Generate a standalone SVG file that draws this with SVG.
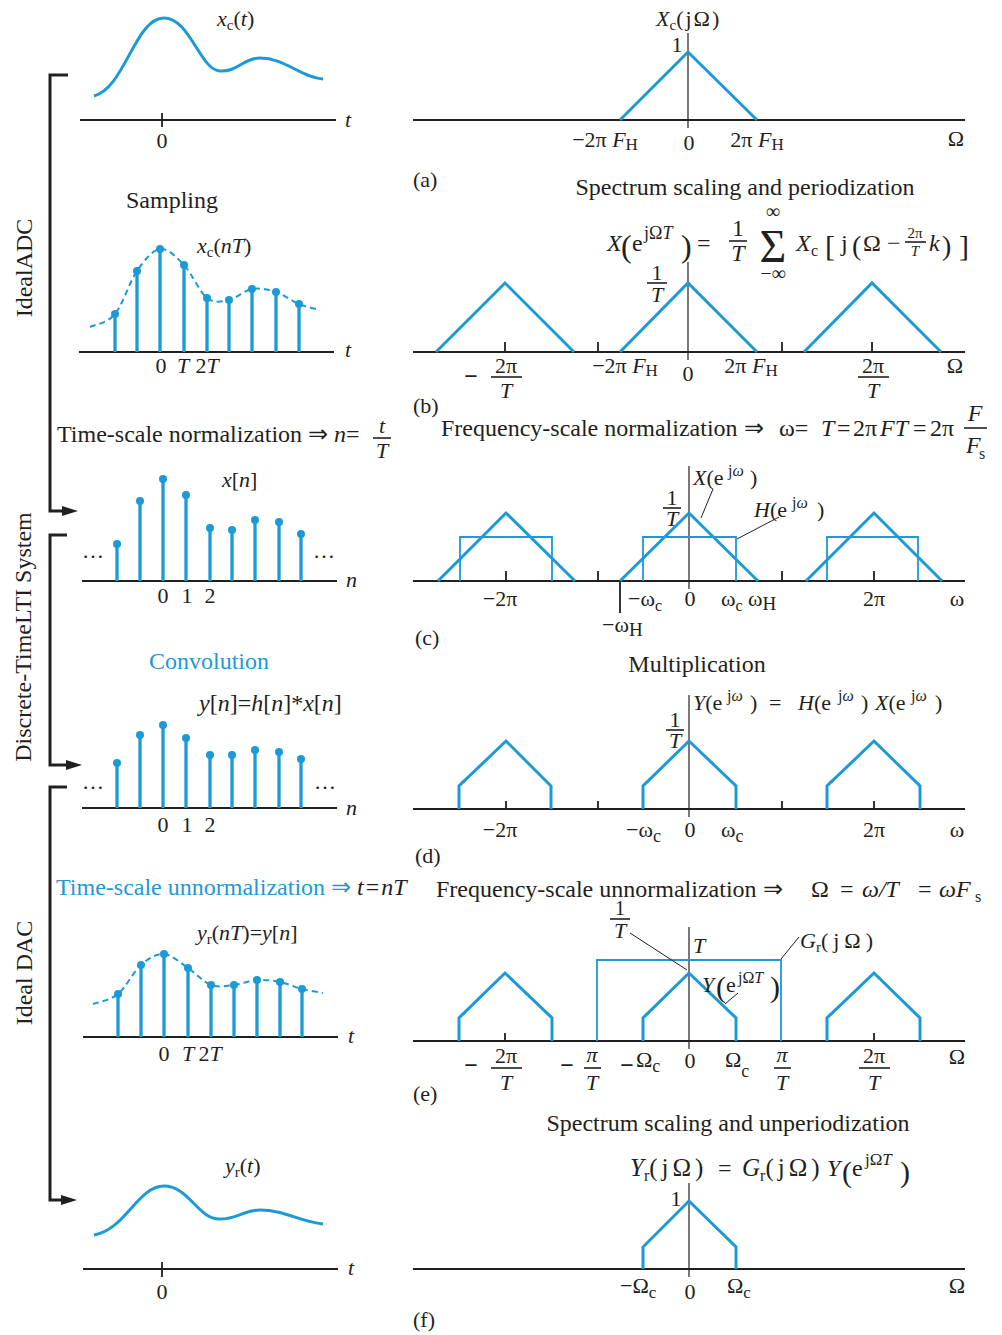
<svg xmlns="http://www.w3.org/2000/svg" width="1002" height="1335" viewBox="0 0 1002 1335">
<defs>
<style>
text{font-family:'Liberation Serif','Times New Roman',serif;font-size:22px;fill:#231f20}
.i{font-style:italic}
.m{text-anchor:middle}
.big{font-size:24px}
.blue{fill:#1c9ad6}
.ax{stroke:#231f20;stroke-width:1.8;fill:none}
.va{stroke:#231f20;stroke-width:1.2;fill:none}
.sp{stroke:#1c9ad6;stroke-width:3;fill:none}
.rc{stroke:#1c9ad6;stroke-width:1.8;fill:none}
.stem{stroke:#1c9ad6;stroke-width:3.3;fill:none}
.dot{fill:#1c9ad6}
.dash{stroke:#1c9ad6;stroke-width:2;fill:none;stroke-dasharray:6 4}
.ld{stroke:#231f20;stroke-width:1;fill:none}
.fb{stroke:#231f20;stroke-width:1.6}
.br{stroke:#231f20;stroke-width:3;fill:none}
.sub{font-size:15px}
.bm{font-weight:bold;font-size:24px}
</style>
<marker id="ah" markerUnits="userSpaceOnUse" markerWidth="16" markerHeight="10" refX="6" refY="5" orient="auto"><path d="M0,0 L16,5 L0,10 z" fill="#231f20"/></marker>
</defs>
<rect width="1002" height="1335" fill="#ffffff"/>

<g id="connectors">
<path class="br" d="M68,75 H50 V511 H68" marker-end="url(#ah)"/>
<path class="br" d="M67,535 H50 V765 H72" marker-end="url(#ah)"/>
<path class="br" d="M67,787 H50 V1200 H67" marker-end="url(#ah)"/>
</g>

<g id="side-labels">
<text transform="translate(32,268) rotate(-90)" class="m big">IdealADC</text>
<text transform="translate(31,637) rotate(-90)" class="m big">Discrete-TimeLTI System</text>
<text transform="translate(32,973) rotate(-90)" class="m big">Ideal DAC</text>
</g>

<g id="xc-t">
<line class="ax" x1="80" y1="120" x2="336" y2="120"/>
<line class="ax" x1="162" y1="113" x2="162" y2="127"/>
<path class="sp" d="M94,96 C125,88 135,18 164,18 C190,18 200,70 220,71 C238,72 243,58 260,58 C285,58 300,77 323,79"/>
<text x="217" y="26"><tspan class="i">x</tspan><tspan class="sub" dy="4">c</tspan><tspan dy="-4">(</tspan><tspan class="i">t</tspan>)</text>
<text x="345" y="127" class="i">t</text>
<text x="162" y="148" class="m">0</text>
</g>

<g id="sampling">
<text x="172" y="208" class="m big">Sampling</text>
<line class="ax" x1="79" y1="352" x2="334" y2="352"/>
<path class="dash" d="M90,327 C94.2,324.8 107.2,323.3 115,314 C122.8,304.7 129.5,281.8 137,271 C144.5,260.2 152.2,250 160,249 C167.8,248 176.2,256.8 184,265 C191.8,273.2 199.5,292.2 207,298 C214.5,303.8 221.5,301.5 229,300 C236.5,298.5 244.2,290.3 252,289 C259.8,287.7 268.2,289.5 276,292 C283.8,294.5 291.7,301 299,304 C306.3,307 316.5,309 320,310"/>
<path class="stem" d="M115,352V314M137,352V271M160,352V249M184,352V265M207,352V298M229,352V300M252,352V289M276,352V292M299,352V304"/>
<g class="dot"><circle cx="115" cy="314" r="4"/><circle cx="137" cy="271" r="4"/><circle cx="160" cy="249" r="4"/><circle cx="184" cy="265" r="4"/><circle cx="207" cy="298" r="4"/><circle cx="229" cy="300" r="4"/><circle cx="252" cy="289" r="4"/><circle cx="276" cy="292" r="4"/><circle cx="299" cy="304" r="4"/></g>
<text x="197" y="253"><tspan class="i">x</tspan><tspan class="sub" dy="4">c</tspan><tspan dy="-4">(</tspan><tspan class="i">nT</tspan>)</text>
<text x="345" y="357" class="i">t</text>
<text x="161" y="373" class="m">0</text>
<text x="183" y="373" class="m i">T</text>
<text x="207" y="373" class="m">2<tspan class="i">T</tspan></text>
</g>

<g id="time-normalization">
<text x="57" y="442" class="big">Time-scale normalization ⇒ <tspan class="i">n</tspan>=</text>
<text x="382" y="433" class="m i">t</text>
<line class="fb" x1="373" y1="438" x2="391" y2="438"/>
<text x="382" y="458" class="m i">T</text>
</g>

<g id="x-n">
<line class="ax" x1="82" y1="581" x2="337" y2="581"/>
<path class="stem" d="M117,581V544M140,581V501M163,581V479M186,581V495M210,581V528M232,581V530M255,581V520M279,581V522M301,581V534"/>
<g class="dot"><circle cx="117" cy="544" r="4"/><circle cx="140" cy="501" r="4"/><circle cx="163" cy="479" r="4"/><circle cx="186" cy="495" r="4"/><circle cx="210" cy="528" r="4"/><circle cx="232" cy="530" r="4"/><circle cx="255" cy="520" r="4"/><circle cx="279" cy="522" r="4"/><circle cx="301" cy="534" r="4"/></g>
<text x="222" y="487"><tspan class="i">x</tspan>[<tspan class="i">n</tspan>]</text>
<text x="82" y="558">…</text>
<text x="313" y="558">…</text>
<text x="163" y="603" class="m">0</text>
<text x="187" y="603" class="m">1</text>
<text x="210" y="603" class="m">2</text>
<text x="346" y="587" class="i">n</text>
</g>

<g id="convolution">
<text x="209" y="669" class="m big blue">Convolution</text>
<text x="199" y="711" class="big"><tspan class="i">y</tspan>[<tspan class="i">n</tspan>]=<tspan class="i">h</tspan>[<tspan class="i">n</tspan>]*<tspan class="i">x</tspan>[<tspan class="i">n</tspan>]</text>
</g>

<g id="y-n">
<line class="ax" x1="82" y1="808" x2="337" y2="808"/>
<path class="stem" d="M117,808V763M140,808V735M163,808V725M186,808V738M210,808V755M232,808V755M255,808V750M279,808V752M301,808V759"/>
<g class="dot"><circle cx="117" cy="763" r="4"/><circle cx="140" cy="735" r="4"/><circle cx="163" cy="725" r="4"/><circle cx="186" cy="738" r="4"/><circle cx="210" cy="755" r="4"/><circle cx="232" cy="755" r="4"/><circle cx="255" cy="750" r="4"/><circle cx="279" cy="752" r="4"/><circle cx="301" cy="759" r="4"/></g>
<text x="82" y="789">…</text>
<text x="314" y="789">…</text>
<text x="163" y="832" class="m">0</text>
<text x="187" y="832" class="m">1</text>
<text x="210" y="832" class="m">2</text>
<text x="346" y="815" class="i">n</text>
</g>

<g id="time-unnormalization">
<text x="56" y="895" class="big"><tspan class="blue">Time-scale unnormalization ⇒</tspan> <tspan class="i">t</tspan><tspan dx="2">=</tspan><tspan class="i" dx="2">nT</tspan></text>
</g>

<g id="yr-nT">
<line class="ax" x1="83" y1="1037" x2="338" y2="1037"/>
<path class="dash" d="M93,1004 C97.2,1002.3 110,1000.5 118,994 C126,987.5 133.3,971.7 141,965 C148.7,958.3 156.2,953.5 164,954 C171.8,954.5 180.2,962.8 188,968 C195.8,973.2 203.3,982.2 211,985 C218.7,987.8 226.3,985.8 234,985 C241.7,984.2 249.3,980.5 257,980 C264.7,979.5 272.5,980.5 280,982 C287.5,983.5 294.8,987.2 302,989 C309.2,990.8 319.5,992.3 323,993"/>
<path class="stem" d="M118,1037V994M141,1037V965M164,1037V954M188,1037V968M211,1037V985M234,1037V985M257,1037V980M280,1037V982M302,1037V989"/>
<g class="dot"><circle cx="118" cy="994" r="4"/><circle cx="141" cy="965" r="4"/><circle cx="164" cy="954" r="4"/><circle cx="188" cy="968" r="4"/><circle cx="211" cy="985" r="4"/><circle cx="234" cy="985" r="4"/><circle cx="257" cy="980" r="4"/><circle cx="280" cy="982" r="4"/><circle cx="302" cy="989" r="4"/></g>
<text x="197" y="940"><tspan class="i">y</tspan><tspan class="sub" dy="4">r</tspan><tspan dy="-4">(</tspan><tspan class="i">nT</tspan>)=<tspan class="i">y</tspan>[<tspan class="i">n</tspan>]</text>
<text x="348" y="1043" class="i">t</text>
<text x="164" y="1061" class="m">0</text>
<text x="188" y="1061" class="m i">T</text>
<text x="210" y="1061" class="m">2<tspan class="i">T</tspan></text>
</g>

<g id="yr-t">
<line class="ax" x1="83" y1="1269" x2="338" y2="1269"/>
<line class="ax" x1="162" y1="1262" x2="162" y2="1277"/>
<path class="sp" d="M94,1235 C125,1230 138,1186 164,1186 C188,1186 198,1218 218,1219 C236,1220 243,1210 260,1210 C285,1210 300,1222 323,1224"/>
<text x="225" y="1173"><tspan class="i">y</tspan><tspan class="sub" dy="4">r</tspan><tspan dy="-4">(</tspan><tspan class="i">t</tspan>)</text>
<text x="348" y="1275" class="i">t</text>
<text x="162" y="1299" class="m">0</text>
</g>

<g id="spectrum-a">
<line class="ax" x1="413" y1="120" x2="965" y2="120"/>
<line class="va" x1="688" y1="33" x2="688" y2="128"/>
<path class="sp" d="M620,120 L688,52 L757,120"/>
<text x="656" y="26"><tspan class="i">X</tspan><tspan class="sub" dy="4">c</tspan><tspan dy="-4" style="letter-spacing:2px">(jΩ)</tspan></text>
<text x="677" y="52" class="m">1</text>
<text x="605" y="147" class="m">−2π <tspan class="i">F</tspan><tspan style="font-size:17px" dy="3">H</tspan></text>
<text x="689" y="150" class="m">0</text>
<text x="757" y="147" class="m">2π <tspan class="i">F</tspan><tspan style="font-size:17px" dy="3">H</tspan></text>
<text x="956" y="146" class="m">Ω</text>
<text x="413" y="187">(a)</text>
</g>

<g id="periodization">
<text x="745" y="195" class="m big">Spectrum scaling and periodization</text>
<text x="607" y="251" class="i big">X</text>
<text x="621" y="257" style="font-size:32px">(</text>
<text x="632" y="251" class="big">e</text>
<text x="644" y="239" style="font-size:18px">jΩ<tspan class="i">T</tspan></text>
<text x="681" y="257" style="font-size:32px">)</text>
<text x="697" y="251" class="big">=</text>
<text x="738" y="236" class="m big">1</text>
<line class="fb" x1="729" y1="241" x2="747" y2="241"/>
<text x="738" y="261" class="m i big">T</text>
<text x="773" y="262" class="m" style="font-size:46px">Σ</text>
<text x="773" y="218" class="m" style="font-size:20px">∞</text>
<text x="773" y="280" class="m" style="font-size:20px">−∞</text>
<text x="796" y="251" class="i big">X</text>
<text x="811" y="256" style="font-size:16px">c</text>
<text x="825" y="256" style="font-size:30px">[</text>
<text x="841" y="251" class="big">j</text>
<text x="852" y="255" style="font-size:28px">(</text>
<text x="863" y="251" class="big">Ω</text>
<text x="887" y="251" class="big">−</text>
<text x="915" y="238" class="m" style="font-size:15px">2π</text>
<line class="fb" x1="905" y1="242" x2="926" y2="242" stroke-width="1.2"/>
<text x="915" y="256" class="m i" style="font-size:15px">T</text>
<text x="929" y="251" class="i big">k</text>
<text x="942" y="255" style="font-size:28px">)</text>
<text x="959" y="256" style="font-size:30px">]</text>
</g>

<g id="spectrum-b">
<line class="ax" x1="413" y1="352" x2="965" y2="352"/>
<line class="va" x1="688" y1="262" x2="688" y2="360"/>
<path class="sp" d="M436,352 L505,283 L574,352 M620,352 L688,283 L757,352 M804,352 L872,283 L941,352"/>
<path class="ax" d="M505,342V352M598,342V352M782,342V352M872,342V352"/>
<text x="657" y="280" class="m">1</text>
<line class="fb" x1="647" y1="283" x2="667" y2="283"/>
<text x="657" y="302" class="m i">T</text>
<text x="471" y="384" class="m bm">−</text>
<text x="506" y="373" class="m">2π</text>
<line class="fb" x1="491" y1="377" x2="522" y2="377"/>
<text x="506" y="398" class="m i">T</text>
<text x="625" y="373" class="m">−2π <tspan class="i">F</tspan><tspan style="font-size:17px" dy="3">H</tspan></text>
<text x="688" y="381" class="m">0</text>
<text x="751" y="373" class="m">2π <tspan class="i">F</tspan><tspan style="font-size:17px" dy="3">H</tspan></text>
<text x="873" y="373" class="m">2π</text>
<line class="fb" x1="858" y1="377" x2="889" y2="377"/>
<text x="873" y="398" class="m i">T</text>
<text x="955" y="373" class="m">Ω</text>
<text x="413" y="413">(b)</text>
</g>

<g id="freq-normalization">
<text x="441" y="436" class="big">Frequency-scale normalization ⇒</text>
<text x="779" y="436" class="big">ω=</text>
<text x="821" y="436" class="big i">T</text>
<text x="837" y="436" class="big">=</text>
<text x="853" y="436" class="big">2π</text>
<text x="880" y="436" class="big i">FT</text>
<text x="913" y="436" class="big">=</text>
<text x="930" y="436" class="big">2π</text>
<text x="975" y="421" class="m i big">F</text>
<line class="fb" x1="964" y1="428" x2="987" y2="428"/>
<text x="966" y="453" class="i big">F</text>
<text x="979" y="459" style="font-size:16px">s</text>
</g>

<g id="spectrum-c">
<line class="ax" x1="413" y1="581" x2="965" y2="581"/>
<line class="va" x1="689" y1="466" x2="689" y2="589"/>
<path class="sp" d="M438,581 L506,513 L575,581 M620,581 L689,513 L758,581 M806,581 L874,513 L942,581"/>
<path class="rc" d="M460,581 V537 H552 V581 M643,581 V537 H736 V581 M827,581 V537 H918 V581"/>
<path class="ax" d="M506,571V581M598,571V581M782,571V581M874,571V581"/>
<line class="ax" x1="620" y1="581" x2="620" y2="613" stroke-width="1.5"/>
<text x="672" y="505" class="m">1</text>
<line class="fb" x1="663" y1="508" x2="681" y2="508"/>
<text x="672" y="526" class="m i">T</text>
<text x="693" y="485"><tspan class="i">X</tspan>(e</text>
<text x="728" y="476" style="font-size:16px">j<tspan class="i">ω</tspan></text>
<text x="750" y="485">)</text>
<text x="754" y="517"><tspan class="i">H</tspan>(e</text>
<text x="792" y="508" style="font-size:16px">j<tspan class="i">ω</tspan></text>
<text x="817" y="517">)</text>
<path class="ld" d="M713,489 L701,518 M779,517 L737,539"/>
<text x="500" y="606" class="m">−2π</text>
<text x="628" y="606">−ω<tspan style="font-size:16px" dy="5">c</tspan></text>
<text x="690" y="606" class="m">0</text>
<text x="721" y="606">ω<tspan style="font-size:16px" dy="5">c</tspan></text>
<text x="748" y="606">ω<tspan style="font-size:19px" dy="4">H</tspan></text>
<text x="874" y="606" class="m">2π</text>
<text x="957" y="606" class="m">ω</text>
<text x="602" y="632">−ω<tspan style="font-size:19px" dy="4">H</tspan></text>
<text x="415" y="645">(c)</text>
</g>

<g id="multiplication">
<text x="697" y="672" class="m big">Multiplication</text>
</g>

<g id="spectrum-d">
<line class="ax" x1="413" y1="809" x2="965" y2="809"/>
<line class="va" x1="689" y1="695" x2="689" y2="817"/>
<path class="sp" d="M459,809 V786 L506,741 L551,786 V809 M643,809 V786 L689,741 L736,786 V809 M827,809 V786 L874,741 L920,786 V809"/>
<path class="ax" d="M506,801V809M598,801V809M782,801V809M874,801V809"/>
<text x="675" y="727" class="m">1</text>
<line class="fb" x1="666" y1="730" x2="684" y2="730"/>
<text x="675" y="748" class="m i">T</text>
<text x="693" y="710"><tspan class="i">Y</tspan>(e</text>
<text x="727" y="701" style="font-size:16px">j<tspan class="i">ω</tspan></text>
<text x="750" y="710">)</text>
<text x="769" y="710">=</text>
<text x="798" y="710"><tspan class="i">H</tspan>(e</text>
<text x="838" y="701" style="font-size:16px">j<tspan class="i">ω</tspan></text>
<text x="861" y="710">)</text>
<text x="875" y="710"><tspan class="i">X</tspan>(e</text>
<text x="911" y="701" style="font-size:16px">j<tspan class="i">ω</tspan></text>
<text x="935" y="710">)</text>
<text x="500" y="837" class="m">−2π</text>
<text x="626" y="837">−ω<tspan style="font-size:18px" dy="5">c</tspan></text>
<text x="690" y="837" class="m">0</text>
<text x="721" y="837">ω<tspan style="font-size:18px" dy="5">c</tspan></text>
<text x="874" y="837" class="m">2π</text>
<text x="957" y="837" class="m">ω</text>
<text x="415" y="863">(d)</text>
</g>

<g id="freq-unnormalization">
<text x="436" y="897" class="big">Frequency-scale unnormalization ⇒</text>
<text x="811" y="897" class="big">Ω</text>
<text x="840" y="897" class="big">=</text>
<text x="862" y="897" class="big i">ω/T</text>
<text x="918" y="897" class="big">=</text>
<text x="939" y="897" class="big i">ωF</text>
<text x="975" y="902" style="font-size:16px">s</text>
</g>

<g id="spectrum-e">
<line class="ax" x1="413" y1="1041" x2="965" y2="1041"/>
<line class="va" x1="689" y1="927" x2="689" y2="1049"/>
<path class="rc" d="M597,1041 V960 H781 V1041"/>
<path class="sp" d="M459,1041 V1018 L505,973 L552,1018 V1041 M643,1041 V1018 L689,973 L736,1018 V1041 M827,1041 V1018 L874,973 L920,1018 V1041"/>
<path class="ax" d="M505,1033V1041M874,1033V1041"/>
<text x="620" y="915" class="m" style="font-size:20px">1</text>
<line class="fb" x1="610" y1="919" x2="630" y2="919" stroke-width="2.5"/>
<text x="620" y="938" class="m i">T</text>
<text x="693" y="953" class="i">T</text>
<text x="800" y="948"><tspan class="i">G</tspan><tspan class="sub" dy="4">r</tspan><tspan dy="-4" style="letter-spacing:5px">(jΩ)</tspan></text>
<text x="702" y="992" class="i">Y</text>
<text x="716" y="997" style="font-size:30px">(</text>
<text x="726" y="992">e</text>
<text x="738" y="983" style="font-size:16px">jΩ<tspan class="i">T</tspan></text>
<text x="770" y="997" style="font-size:30px">)</text>
<path class="ld" d="M630,933 L687,970 M799,937 L781,959 M738,993 L725,1004"/>
<text x="471" y="1073" class="m bm">−</text>
<text x="506" y="1063" class="m">2π</text>
<line class="fb" x1="491" y1="1068" x2="522" y2="1068"/>
<text x="506" y="1090" class="m i">T</text>
<text x="567" y="1073" class="m bm">−</text>
<text x="592" y="1062" class="m i">π</text>
<line class="fb" x1="584" y1="1068" x2="601" y2="1068"/>
<text x="592" y="1090" class="m i">T</text>
<text x="627" y="1073" class="m bm">−</text>
<text x="636" y="1067">Ω<tspan style="font-size:18px" dy="5">c</tspan></text>
<text x="690" y="1068" class="m">0</text>
<text x="725" y="1067">Ω<tspan style="font-size:18px" dy="10">c</tspan></text>
<text x="782" y="1062" class="m i">π</text>
<line class="fb" x1="774" y1="1068" x2="791" y2="1068"/>
<text x="782" y="1090" class="m i">T</text>
<text x="874" y="1063" class="m">2π</text>
<line class="fb" x1="859" y1="1068" x2="890" y2="1068"/>
<text x="874" y="1090" class="m i">T</text>
<text x="957" y="1064" class="m">Ω</text>
<text x="413" y="1101">(e)</text>
</g>

<g id="unperiodization">
<text x="728" y="1131" class="m big">Spectrum scaling and unperiodization</text>
<text x="630" y="1176" style="font-size:25px"><tspan class="i">Y</tspan><tspan style="font-size:16px" dy="5">r</tspan><tspan dy="-5" style="letter-spacing:4px">(jΩ)</tspan></text>
<text x="718" y="1176" class="big">=</text>
<text x="742" y="1176" style="font-size:25px"><tspan class="i">G</tspan><tspan style="font-size:16px" dy="5">r</tspan><tspan dy="-5" style="letter-spacing:4px">(jΩ)</tspan></text>
<text x="827" y="1176" class="big i">Y</text>
<text x="842" y="1182" style="font-size:30px">(</text>
<text x="852" y="1176" class="big">e</text>
<text x="865" y="1165" style="font-size:17px">jΩ<tspan class="i">T</tspan></text>
<text x="900" y="1182" style="font-size:30px">)</text>
</g>

<g id="spectrum-f">
<line class="ax" x1="413" y1="1269" x2="965" y2="1269"/>
<line class="va" x1="689" y1="1183" x2="689" y2="1277"/>
<path class="sp" d="M643,1269 V1247 L689,1201 L736,1247 V1269"/>
<text x="676" y="1206" class="m">1</text>
<text x="620" y="1293">−Ω<tspan style="font-size:17px" dy="5">c</tspan></text>
<text x="690" y="1299" class="m">0</text>
<text x="727" y="1293">Ω<tspan style="font-size:17px" dy="5">c</tspan></text>
<text x="957" y="1293" class="m">Ω</text>
<text x="413" y="1327">(f)</text>
</g>
</svg>
